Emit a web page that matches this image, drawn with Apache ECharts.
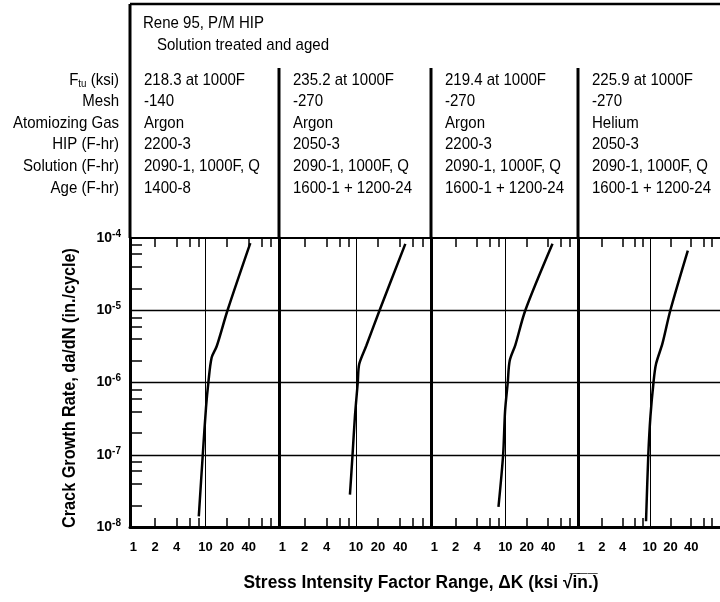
<!DOCTYPE html>
<html>
<head>
<meta charset="utf-8">
<script src="https://cdn.jsdelivr.net/npm/echarts@6/dist/echarts.min.js"></script>
<style>
  html, body { margin: 0; padding: 0; background: #fff; }
  #chart { width: 720px; height: 602px; }
</style>
</head>
<body>
<div id="chart"></div>
<script>
// ---- Processing table (one entry per panel) ----
const rowLabels = ['{n|F}{sub|tu}{n| (ksi)}', 'Mesh', 'Atomiozing Gas', 'HIP (F-hr)', 'Solution (F-hr)', 'Age (F-hr)'];
const ftu = ['218.3 at 1000F', '235.2 at 1000F', '219.4 at 1000F', '225.9 at 1000F'];
const mesh = ['-140', '-270', '-270', '-270'];
const gas = ['Argon', 'Argon', 'Argon', 'Helium'];
const hip = ['2200-3', '2050-3', '2200-3', '2050-3'];
const solution = ['2090-1, 1000F, Q', '2090-1, 1000F, Q', '2090-1, 1000F, Q', '2090-1, 1000F, Q'];
const age = ['1400-8', '1600-1 + 1200-24', '1600-1 + 1200-24', '1600-1 + 1200-24'];
const materialTitle = 'Rene 95, P/M HIP';
const conditionTitle = 'Solution treated and aged';

// ---- Crack growth curves: stress intensity range (ksi*sqrt(in)) vs da/dN (in./cycle) ----
const deltaK1 = [8.1, 9.2, 10.2, 11.0, 12.2, 14.4, 20.3, 42.0];
const rate1   = [1.4e-8, 1.0e-7, 4.5e-7, 1.0e-6, 2.2e-6, 3.2e-6, 1.0e-5, 8.5e-5];
const deltaK2 = [8.3, 9.0, 9.7, 10.6, 11.1, 13.8, 21.0, 47.0];
const rate2   = [2.8e-8, 1.0e-7, 3.4e-7, 1.0e-6, 1.8e-6, 3.2e-6, 1.0e-5, 8.3e-5];
const deltaK3 = [8.0, 9.3, 9.9, 10.8, 11.5, 13.8, 19.1, 46.0];
const rate3   = [1.9e-8, 1.0e-7, 4.0e-7, 1.0e-6, 2.0e-6, 3.3e-6, 1.0e-5, 8.3e-5];
const deltaK4 = [8.8, 9.5, 10.2, 11.3, 12.3, 15.3, 19.9, 35.7];
const rate4   = [1.2e-8, 1.0e-7, 3.4e-7, 1.0e-6, 1.8e-6, 3.5e-6, 1.0e-5, 6.7e-5];

// ---- Axis ticks and labels ----
const xTickLabels = [1, 2, 4, 10, 20, 40];
const xMinorTicks = [2, 4, 6, 8, 20, 40, 60, 80];
const yTickLabels = [1e-8, 1e-7, 1e-6, 1e-5, 1e-4];
const yMinorTicks = [2e-8, 4e-8, 6e-8, 8e-8, 2e-7, 4e-7, 6e-7, 8e-7,
                     2e-6, 4e-6, 6e-6, 8e-6, 2e-5, 4e-5, 6e-5, 8e-5];
const gridRates = [1e-7, 1e-6, 1e-5];
const gridDeltaK = 10;
const xRange = [0.9, 105];
const yRange = [1e-8, 1e-4];

// ---- Layout ----
const PANEL_LEFT = [130, 279, 431, 578];
const PANEL_WIDTH = [149, 152, 147, 150];
const PLOT_TOP = 238;
const PLOT_BOTTOM = 527;
const HEADER_TOP = 4;
const DIVIDER_TOP = 68;
const ROW_Y0 = 80;
const ROW_STEP = 21.6;

const FONT = "'Liberation Sans', Arial, sans-serif";

const measureCtx = document.createElement('canvas').getContext('2d');
function textWidth(str, font) {
  measureCtx.font = font;
  return measureCtx.measureText(str).width;
}

// Condensed look: squeeze text horizontally to its printed width
const headerFontSize = 17;
const headerScale = 106 / textWidth('Atomiozing Gas', headerFontSize + 'px ' + FONT);
const xTitle = 'Stress Intensity Factor Range, \u0394K (ksi \u221Ai\u0305n\u0305.\u0305)';
const yTitle = 'Crack Growth Rate, da/dN (in./cycle)';
const titleFontSize = 18;
const xTitleScale = 355 / textWidth('Stress Intensity Factor Range, \u0394K (ksi \u221Ain.)', 'bold ' + titleFontSize + 'px ' + FONT);
const yTitleScale = 280 / textWidth(yTitle, 'bold ' + titleFontSize + 'px ' + FONT);

const panelCurves = [
  [deltaK1, rate1], [deltaK2, rate2], [deltaK3, rate3], [deltaK4, rate4]
];

const grids = [], xAxes = [], yAxes = [], series = [];
const black = '#000';

PANEL_LEFT.forEach((left, i) => {
  grids.push({ left: left, top: PLOT_TOP, width: PANEL_WIDTH[i], height: PLOT_BOTTOM - PLOT_TOP });

  // bottom ΔK axis with labels
  xAxes.push({
    type: 'log', logBase: 10, gridIndex: i, position: 'bottom',
    min: xRange[0], max: xRange[1],
    axisLine: { show: true, onZero: false, lineStyle: { color: black, width: 3 } },
    axisTick: { show: true, inside: true, length: 9, customValues: xMinorTicks, lineStyle: { color: black, width: 1.5 } },
    axisLabel: {
      show: true, customValues: xTickLabels, margin: 14,
      color: black, fontFamily: FONT, fontWeight: 'bold', fontSize: 13,
      formatter: v => String(Math.round(v))
    },
    splitLine: { show: false }
  });
  // top border of each panel with inward ticks
  xAxes.push({
    type: 'log', logBase: 10, gridIndex: i, position: 'top',
    min: xRange[0], max: xRange[1],
    axisLine: { show: true, onZero: false, lineStyle: { color: black, width: 2 } },
    axisTick: { show: true, inside: true, length: 9, customValues: xMinorTicks, lineStyle: { color: black, width: 1.5 } },
    axisLabel: { show: false },
    splitLine: { show: false }
  });

  yAxes.push({
    type: 'log', logBase: 10, gridIndex: i, position: 'left',
    min: yRange[0], max: yRange[1],
    axisLine: { show: true, onZero: false, lineStyle: { color: black, width: 3 } },
    axisTick: i === 0
      ? { show: true, inside: true, length: 12, customValues: yMinorTicks, lineStyle: { color: black, width: 1.5 } }
      : { show: false },
    axisLabel: i === 0 ? {
      show: true, customValues: yTickLabels, margin: 9,
      color: black, fontFamily: FONT, fontWeight: 'bold',
      formatter: v => '{b|10}{s|' + Math.round(Math.log10(v)) + '}',
      rich: {
        b: { fontSize: 14, fontWeight: 'bold', fontFamily: FONT, color: black, lineHeight: 18 },
        s: { fontSize: 10, fontWeight: 'bold', fontFamily: FONT, color: black, lineHeight: 9, verticalAlign: 'top' }
      }
    } : { show: false },
    splitLine: { show: false }
  });

  const [ks, rs] = panelCurves[i];
  series.push({
    type: 'line',
    xAxisIndex: 2 * i, yAxisIndex: i,
    data: ks.map((k, j) => [k, rs[j]]),
    showSymbol: false, symbol: 'none',
    smooth: 0.3,
    lineStyle: { color: black, width: 2.5 },
    z: 5,
    markLine: {
      silent: true, symbol: ['none', 'none'], label: { show: false },
      precision: 12,
      lineStyle: { color: black, type: 'solid', width: 1.3 },
      data: [{ xAxis: gridDeltaK, lineStyle: { width: 1 } }].concat(gridRates.map(r => ({ yAxis: r })))
    }
  });
});

// ---- Header table, frame lines and axis titles ----
const graphic = [];
const lineEl = (x1, y1, x2, y2, w) => ({
  type: 'line', shape: { x1, y1, x2, y2 }, style: { stroke: black, lineWidth: w }, silent: true
});
graphic.push(lineEl(PANEL_LEFT[0], HEADER_TOP, 720, HEADER_TOP, 2.5));
graphic.push(lineEl(PANEL_LEFT[0], HEADER_TOP, PANEL_LEFT[0], PLOT_TOP, 3));
for (let i = 1; i < PANEL_LEFT.length; i++) {
  graphic.push(lineEl(PANEL_LEFT[i], DIVIDER_TOP, PANEL_LEFT[i], PLOT_TOP, 3));
}

const headerFont = { fontFamily: FONT, fontSize: headerFontSize, fill: black };
const textEl = (x, y, text, align) => ({
  type: 'text', x, y, scaleX: headerScale, silent: true,
  style: Object.assign({ text, align: align, verticalAlign: 'middle' }, headerFont)
});

graphic.push(textEl(PANEL_LEFT[0] + 13, 23, materialTitle, 'left'));
graphic.push(textEl(PANEL_LEFT[0] + 27, 45, conditionTitle, 'left'));

rowLabels.forEach((label, r) => {
  const el = textEl(119, ROW_Y0 + r * ROW_STEP, label, 'right');
  el.style.rich = {
    n: { fontFamily: FONT, fontSize: headerFontSize, fill: black, lineHeight: 18, verticalAlign: 'bottom' },
    sub: { fontFamily: FONT, fontSize: 11, fill: black, lineHeight: 12, verticalAlign: 'bottom' }
  };
  graphic.push(el);
});

const columns = [ftu, mesh, gas, hip, solution, age];
PANEL_LEFT.forEach((left, i) => {
  columns.forEach((col, r) => {
    graphic.push(textEl(left + 14, ROW_Y0 + r * ROW_STEP, col[i], 'left'));
  });
});

graphic.push({
  type: 'text', x: 421, y: 583, scaleX: xTitleScale, silent: true,
  style: { text: xTitle, align: 'center', verticalAlign: 'middle', fontFamily: FONT, fontWeight: 'bold', fontSize: titleFontSize, fill: black }
});
graphic.push({
  type: 'text', x: 70, y: 388, rotation: Math.PI / 2, scaleX: yTitleScale, silent: true,
  style: { text: yTitle, align: 'center', verticalAlign: 'middle', fontFamily: FONT, fontWeight: 'bold', fontSize: titleFontSize, fill: black }
});

const chart = echarts.init(document.getElementById('chart'), null, { renderer: 'canvas' });
chart.setOption({
  animation: false,
  backgroundColor: '#fff',
  grid: grids,
  xAxis: xAxes,
  yAxis: yAxes,
  series: series,
  graphic: graphic
});
</script>
</body>
</html>
